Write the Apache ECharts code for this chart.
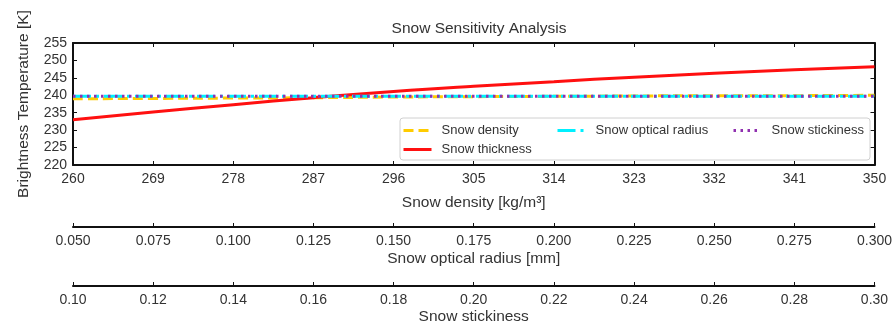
<!DOCTYPE html>
<html>
<head>
<meta charset="utf-8">
<script src="https://cdn.jsdelivr.net/npm/echarts@6/dist/echarts.min.js"></script>
<style>
  html, body { margin: 0; padding: 0; background: #fff; }
  #chart { width: 895px; height: 327px; }
</style>
</head>
<body>
<div id="chart"></div>
<script>
// Snow density sweep [kg/m3] (also carries the thickness curve)
const densityX = [260, 269, 278, 287, 296, 305, 314, 323, 332, 341, 350];
const densityTb = [239.0, 239.1, 239.2, 239.3, 239.5, 239.6, 239.7, 239.8, 239.9, 239.9, 240.0];
const thicknessTb = [233.0, 235.2, 237.3, 239.3, 241.1, 242.6, 243.9, 245.2, 246.3, 247.3, 248.2];

// Snow optical radius sweep [mm]
const radiusX = [0.050, 0.075, 0.100, 0.125, 0.150, 0.175, 0.200, 0.225, 0.250, 0.275, 0.300];
const radiusTb = [239.7, 239.7, 239.7, 239.7, 239.7, 239.7, 239.7, 239.7, 239.7, 239.7, 239.7];

// Snow stickiness sweep
const stickinessX = [0.10, 0.12, 0.14, 0.16, 0.18, 0.20, 0.22, 0.24, 0.26, 0.28, 0.30];
const stickinessTb = [239.7, 239.7, 239.7, 239.7, 239.7, 239.7, 239.7, 239.7, 239.7, 239.7, 239.7];

const yTicks = { min: 220, max: 255, step: 5 };

const FONT = 'Liberation Sans, Arial, sans-serif';
const TXT = '#333';
const TICK_FS = 14;
const NAME_FS = 15.5;

const pairs = (xs, ys) => xs.map((x, i) => [x, ys[i]]);

function bottomAxis(min, max, step, offset, name, nameGap, digits) {
  return {
    type: 'value', position: 'bottom', offset: offset,
    min: min, max: max, interval: step,
    name: name, nameLocation: 'middle', nameGap: nameGap,
    nameTextStyle: { color: TXT, fontSize: NAME_FS, fontFamily: FONT },
    axisLine: { show: true, onZero: false, lineStyle: { color: '#111', width: 2 } },
    axisTick: { show: true, inside: true, length: 4, lineStyle: { color: '#111', width: 1 } },
    axisLabel: { color: TXT, fontSize: TICK_FS, fontFamily: FONT, margin: 7,
      formatter: v => v.toFixed(digits) },
    splitLine: { show: false }
  };
}

const chart = echarts.init(document.getElementById('chart'), null, { renderer: 'canvas' });

// Legend entries show only the line sample (no marker)
const legendBase = {
  orient: 'horizontal', padding: 0, itemWidth: 28, itemHeight: 10, z: 6,
  itemStyle: { opacity: 0, borderWidth: 0 },
  lineStyle: { width: 3 },
  textStyle: { color: TXT, fontSize: 13, fontFamily: FONT, padding: [0, 0, 0, 5] },
  selectedMode: false
};

chart.setOption({
  animation: false,
  backgroundColor: '#fff',
  title: {
    text: 'Snow Sensitivity Analysis', left: 474, top: 16, textAlign: 'center',
    textStyle: { color: TXT, fontSize: NAME_FS, fontWeight: 'normal', fontFamily: FONT }
  },
  grid: { left: 73, right: 20, top: 43, bottom: 162, containLabel: false },
  graphic: [{
    type: 'rect', shape: { x: 400, y: 118, width: 470, height: 42, r: 3 },
    style: { fill: '#fff', stroke: '#d0d0d0', lineWidth: 1 }, z: 3
  }],
  legend: [
    Object.assign({ data: ['Snow density'], left: 402, top: 124 }, legendBase),
    Object.assign({ data: ['Snow thickness'], left: 402, top: 143 }, legendBase),
    Object.assign({ data: ['Snow optical radius'], left: 556, top: 124 }, legendBase),
    Object.assign({ data: ['Snow stickiness'], left: 732, top: 124 }, legendBase)
  ],
  xAxis: [
    bottomAxis(260, 350, 9, 0, 'Snow density [kg/m³]', 30, 0),
    bottomAxis(0.05, 0.30, 0.025, 62, 'Snow optical radius [mm]', 24, 3),
    bottomAxis(0.10, 0.30, 0.02, 121, 'Snow stickiness', 23, 2),
    {
      type: 'value', position: 'top', min: 260, max: 350, interval: 9,
      axisLine: { show: true, onZero: false, lineStyle: { color: '#111', width: 2 } },
      axisTick: { show: true, inside: true, length: 4, lineStyle: { color: '#111' } },
      axisLabel: { show: false }, splitLine: { show: false }
    }
  ],
  yAxis: [
    {
      type: 'value', position: 'left', min: yTicks.min, max: yTicks.max, interval: yTicks.step,
      name: 'Brightness Temperature [K]', nameLocation: 'middle', nameGap: 41,
      nameTextStyle: { color: TXT, fontSize: NAME_FS, fontFamily: FONT },
      axisLine: { show: true, onZero: false, lineStyle: { color: '#111', width: 2 } },
      axisTick: { show: true, inside: true, length: 4, lineStyle: { color: '#111' } },
      axisLabel: { color: TXT, fontSize: TICK_FS, fontFamily: FONT, margin: 6 },
      splitLine: { show: false }
    },
    {
      type: 'value', position: 'right', min: yTicks.min, max: yTicks.max, interval: yTicks.step,
      axisLine: { show: true, onZero: false, lineStyle: { color: '#111', width: 2 } },
      axisTick: { show: true, inside: true, length: 4, lineStyle: { color: '#111' } },
      axisLabel: { show: false }, splitLine: { show: false }
    }
  ],
  series: [
    {
      name: 'Snow density', type: 'line', xAxisIndex: 0, yAxisIndex: 0,
      data: pairs(densityX, densityTb), symbol: 'none', smooth: true,
      lineStyle: { color: '#FFCC00', width: 3, type: [10, 5] },
      itemStyle: { color: '#FFCC00' }
    },
    {
      name: 'Snow thickness', type: 'line', xAxisIndex: 0, yAxisIndex: 0,
      data: pairs(densityX, thicknessTb), symbol: 'none', smooth: true,
      lineStyle: { color: '#FF1010', width: 3 },
      itemStyle: { color: '#FF1010' }
    },
    {
      name: 'Snow optical radius', type: 'line', xAxisIndex: 1, yAxisIndex: 0,
      data: pairs(radiusX, radiusTb), symbol: 'none',
      lineStyle: { color: '#00F0FF', width: 3, type: [18, 5, 3, 5] },
      itemStyle: { color: '#00F0FF' }
    },
    {
      name: 'Snow stickiness', type: 'line', xAxisIndex: 2, yAxisIndex: 0,
      data: pairs(stickinessX, stickinessTb), symbol: 'none',
      lineStyle: { color: '#9030B0', width: 3, type: [2.5, 4.5] },
      itemStyle: { color: '#9030B0' }
    }
  ]
});
</script>
</body>
</html>
